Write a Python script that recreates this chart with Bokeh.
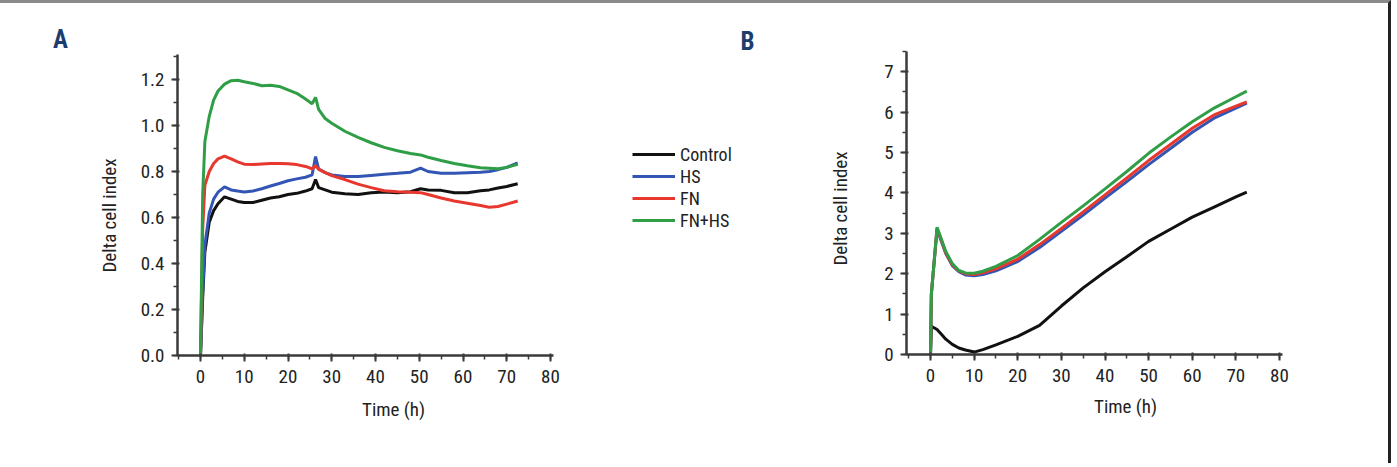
import math
from bokeh.plotting import figure
from bokeh.models import (Range1d, SingleIntervalTicker, NumeralTickFormatter,
                          Legend, LegendItem, Label)
from bokeh.layouts import row
from bokeh.embed import file_html
from bokeh.resources import INLINE

# ---------------- data ----------------
series_names = ["Control", "HS", "FN", "FN+HS"]
series_colors = ["#111111", "#3356b4", "#e8372e", "#2f9e46"]

# Panel A
time_a = [0, 0.5, 1, 2, 3, 4, 5.5, 7, 8.5, 10, 12, 14, 16, 18, 20, 22, 24, 25.5,
          26.3, 27, 28.5, 30, 33, 36, 39, 42, 45, 48, 50.3, 52, 55, 58, 61, 64,
          66, 68, 70, 72.5]
a_control = [0, 0.25, 0.45, 0.58, 0.63, 0.66, 0.69, 0.68, 0.67, 0.665, 0.665,
             0.675, 0.685, 0.69, 0.70, 0.705, 0.715, 0.725, 0.765, 0.73, 0.72,
             0.71, 0.703, 0.70, 0.708, 0.711, 0.708, 0.712, 0.725, 0.72, 0.718,
             0.708, 0.708, 0.716, 0.72, 0.728, 0.735, 0.747]
a_hs = [0, 0.28, 0.48, 0.62, 0.68, 0.71, 0.733, 0.72, 0.715, 0.711, 0.715, 0.725,
        0.737, 0.748, 0.76, 0.768, 0.775, 0.785, 0.865, 0.81, 0.795, 0.785, 0.778,
        0.778, 0.783, 0.788, 0.792, 0.797, 0.815, 0.80, 0.792, 0.792, 0.795,
        0.797, 0.80, 0.808, 0.818, 0.838]
a_fn = [0, 0.55, 0.74, 0.80, 0.835, 0.855, 0.867, 0.855, 0.842, 0.832, 0.83,
        0.833, 0.835, 0.835, 0.834, 0.83, 0.822, 0.812, 0.825, 0.81, 0.795, 0.782,
        0.765, 0.745, 0.73, 0.716, 0.712, 0.71, 0.708, 0.70, 0.685, 0.672, 0.662,
        0.652, 0.645, 0.648, 0.658, 0.672]
a_fnhs = [0, 0.70, 0.93, 1.04, 1.11, 1.15, 1.18, 1.195, 1.197, 1.19, 1.183, 1.173,
          1.175, 1.17, 1.155, 1.14, 1.115, 1.095, 1.122, 1.07, 1.03, 1.01, 0.975,
          0.948, 0.925, 0.905, 0.89, 0.878, 0.872, 0.862, 0.848, 0.835, 0.825,
          0.816, 0.814, 0.812, 0.818, 0.831]

# Panel B
time_b = [0, 0.2, 1.5, 2.5, 3.5, 5, 6.5, 8, 10, 12, 15, 20, 25, 30, 35, 40, 45,
          50, 55, 60, 65, 70, 72.5]
b_control = [0, 0.7, 0.62, 0.5, 0.38, 0.25, 0.16, 0.11, 0.06, 0.12, 0.24, 0.45,
             0.72, 1.2, 1.65, 2.05, 2.42, 2.8, 3.1, 3.4, 3.65, 3.9, 4.02]
b_hs = [0, 1.5, 3.1, 2.8, 2.5, 2.2, 2.05, 1.97, 1.95, 1.98, 2.07, 2.3, 2.65, 3.05,
        3.45, 3.87, 4.28, 4.7, 5.1, 5.5, 5.85, 6.1, 6.22]
b_fn = [0, 1.5, 3.12, 2.82, 2.52, 2.22, 2.07, 2.0, 1.98, 2.02, 2.12, 2.36, 2.72,
        3.12, 3.53, 3.95, 4.37, 4.8, 5.2, 5.6, 5.93, 6.15, 6.25]
b_fnhs = [0, 1.5, 3.15, 2.85, 2.55, 2.25, 2.08, 2.02, 2.01, 2.06, 2.18, 2.45, 2.85,
          3.27, 3.68, 4.1, 4.53, 4.98, 5.38, 5.76, 6.1, 6.38, 6.52]

x_label = "Time (h)"
y_label = "Delta cell index"

FONT = "'Roboto Condensed', 'DejaVu Sans Condensed', 'Liberation Sans Narrow', Roboto, sans-serif"
AX = "#3a3a3a"
TXT = "#222222"


def style(p, x_start, x_end, y_end, y_interval):
    p.outline_line_color = None
    p.xgrid.visible = False
    p.ygrid.visible = False
    p.background_fill_color = None
    p.border_fill_color = None
    p.xaxis.ticker = SingleIntervalTicker(interval=10, num_minor_ticks=2)
    p.yaxis.ticker = SingleIntervalTicker(interval=y_interval, num_minor_ticks=2)
    p.xaxis.fixed_location = 0
    p.xaxis.bounds = (x_start, x_end)
    p.yaxis.fixed_location = x_start
    p.yaxis.bounds = (0, y_end)
    for ax in (p.xaxis[0], p.yaxis[0]):
        ax.axis_line_color = AX
        ax.axis_line_width = 2.5
        ax.major_tick_line_color = AX
        ax.major_tick_line_width = 2
        ax.minor_tick_line_color = AX
        ax.minor_tick_line_width = 1.5
        ax.major_tick_in = 2
        ax.major_tick_out = 6
        ax.minor_tick_in = 0
        ax.minor_tick_out = 4
        ax.major_label_text_font = FONT
        ax.major_label_text_font_size = "19px"
        ax.major_label_text_color = TXT
    p.xaxis.major_label_standoff = 8
    p.yaxis.major_label_standoff = 7


def text(p, x, y, s, size="19px", bold=False, color=TXT, angle=0.0):
    p.add_layout(Label(x=x, y=y, x_units="screen", y_units="screen", text=s,
                       text_font=FONT, text_font_size=size,
                       text_font_style="bold" if bold else "normal",
                       text_color=color, text_align="center",
                       text_baseline="middle", angle=angle))


# ---------------- panel A ----------------
# frame covers the whole canvas: 0 h at x=200px, 4.375 px/h; 0 at y=352px, 230 px/unit
pA = figure(width=600, height=460, output_backend="svg", toolbar_location=None,
            x_range=Range1d(-200 / 4.375, 400 / 4.375),
            y_range=Range1d(-108 / 230, 352 / 230),
            min_border_left=0, min_border_right=0, min_border_top=0,
            min_border_bottom=0)
style(pA, -5.26, 80.7, 1.309, 0.2)
pA.yaxis.formatter = NumeralTickFormatter(format="0.0")
for ys, c in zip([a_control, a_hs, a_fn, a_fnhs], series_colors):
    pA.line(time_a, ys, line_color=c, line_width=3)
text(pA, 60, 424, "A", size="25px", bold=True, color="#1c3d6e")
text(pA, 393, 54, x_label)
text(pA, 109, 248, y_label, angle=math.pi / 2)

# ---------------- panel B ----------------
# 0 h at x=330px (in this canvas), 4.3625 px/h; 0 at y=351px, 40.4 px/unit
pB = figure(width=788, height=460, output_backend="svg", toolbar_location=None,
            x_range=Range1d(-330 / 4.3625, 458 / 4.3625),
            y_range=Range1d(-109 / 40.4, 351 / 40.4),
            min_border_left=0, min_border_right=0, min_border_top=0,
            min_border_bottom=0)
style(pB, -5.5, 80.69, 7.5, 1)
rends = []
for ys, c in zip([b_control, b_hs, b_fn, b_fnhs], series_colors):
    rends.append(pB.line(time_b, ys, line_color=c, line_width=3))
legend = Legend(items=[LegendItem(label=n, renderers=[r])
                       for n, r in zip(series_names, rends)],
                location=(32, 232), glyph_width=43, glyph_height=22,
                label_height=22, label_standoff=5, spacing=0, padding=0,
                margin=0, border_line_color=None, background_fill_alpha=0,
                label_text_font=FONT, label_text_font_size="18px",
                label_text_color=TXT)
pB.add_layout(legend)
text(pB, 147, 422, "B", size="25px", bold=True, color="#1c3d6e")
text(pB, 525, 57, x_label)
text(pB, 240, 255, y_label, angle=math.pi / 2)

layout = row(pA, pB, styles={"border-top": "3px solid #8a8a8a",
                             "border-right": "3px solid #222222"})

open("out.html", "w").write(file_html(layout, INLINE))
